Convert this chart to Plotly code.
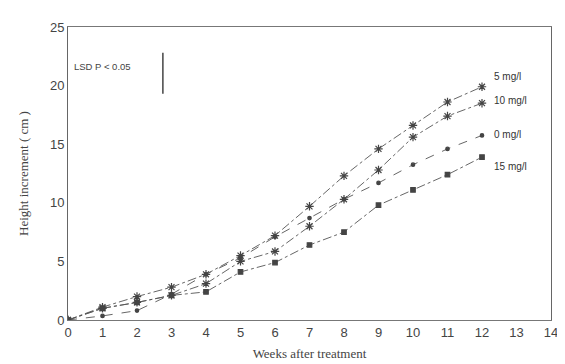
import plotly.graph_objects as go

weeks = [0, 1, 2, 3, 4, 5, 6, 7, 8, 9, 10, 11, 12]
series_names = ["5 mg/l", "10 mg/l", "0 mg/l", "15 mg/l"]
h_5 = [0, 1.1, 2.0, 2.8, 3.9, 5.5, 7.2, 9.7, 12.3, 14.6, 16.6, 18.6, 19.9]
h_10 = [0, 1.0, 1.5, 2.1, 3.1, 5.0, 5.85, 8.0, 10.3, 12.8, 15.6, 17.4, 18.5]
h_0 = [0, 0.35, 0.8, 2.2, 3.9, 5.3, 7.1, 8.7, 10.3, 11.7, 13.25, 14.6, 15.75]
h_15 = [0, 1.0, 1.5, 2.1, 2.4, 4.1, 4.9, 6.4, 7.5, 9.8, 11.1, 12.4, 13.9]
x_ticks = list(range(0, 15))
y_ticks = [0, 5, 10, 15, 20, 25]
lsd_label = "LSD P < 0.05"
lsd_value = 3.5

ink = "#444444"
series = [h_5, h_10, h_0, h_15]
dashes = ["dashdot", "dashdot", "dash", "dashdot"]
symbols = ["asterisk-open", "asterisk-open", "circle", "square"]
msizes = [7, 7, 3.5, 4.5]
label_dy = [0.9, 0.2, 0.05, -0.8]

fig = go.Figure()
for name, ys, d, s, ms in zip(series_names, series, dashes, symbols, msizes):
    fig.add_trace(go.Scatter(
        x=weeks, y=ys, mode="lines+markers", name=name,
        line=dict(color="#555555", width=0.9, dash=d),
        marker=dict(symbol=s, size=ms, color=ink, line=dict(color=ink, width=1.2)),
        showlegend=False,
    ))

annotations = []
for name, ys, dy in zip(series_names, series, label_dy):
    annotations.append(dict(
        x=weeks[-1] + 0.3, y=ys[-1] + dy, text=name, showarrow=False,
        xanchor="left", yanchor="middle",
        font=dict(family="Liberation Sans", size=10, color="#333333"),
    ))

# LSD bar
lsd_x = 2.75
lsd_top = 22.8
fig.add_trace(go.Scatter(
    x=[lsd_x, lsd_x], y=[lsd_top, lsd_top - lsd_value], mode="lines",
    line=dict(color=ink, width=1.5), showlegend=False,
))
annotations.append(dict(
    x=0.12, y=21.6, text=lsd_label, showarrow=False, xanchor="left", yanchor="middle",
    font=dict(family="Liberation Sans", size=9.5, color=ink),
))

fig.update_layout(
    width=565, height=364,
    margin=dict(l=60, r=22, t=12, b=52),
    paper_bgcolor="white", plot_bgcolor="white",
    annotations=annotations,
    xaxis=dict(
        range=[0, 14], tickvals=x_ticks, ticktext=[str(v) for v in x_ticks],
        showgrid=False, zeroline=False, showline=True, linecolor="#777", linewidth=1,
        mirror=True, ticks="",
        tickfont=dict(family="Liberation Sans", size=13, color=ink),
        title=dict(text="Weeks after treatment", standoff=10,
                   font=dict(family="Liberation Serif", size=13, color=ink)),
    ),
    yaxis=dict(
        range=[0, 25], tickvals=y_ticks, ticktext=[str(v) for v in y_ticks],
        showgrid=False, zeroline=False, showline=True, linecolor="#666", linewidth=1,
        mirror=True, ticks="",
        tickfont=dict(family="Liberation Sans", size=13, color=ink),
        title=dict(text="Height increment ( cm )", standoff=18,
                   font=dict(family="Liberation Serif", size=13, color=ink)),
    ),
)

fig.write_html("out.html")
